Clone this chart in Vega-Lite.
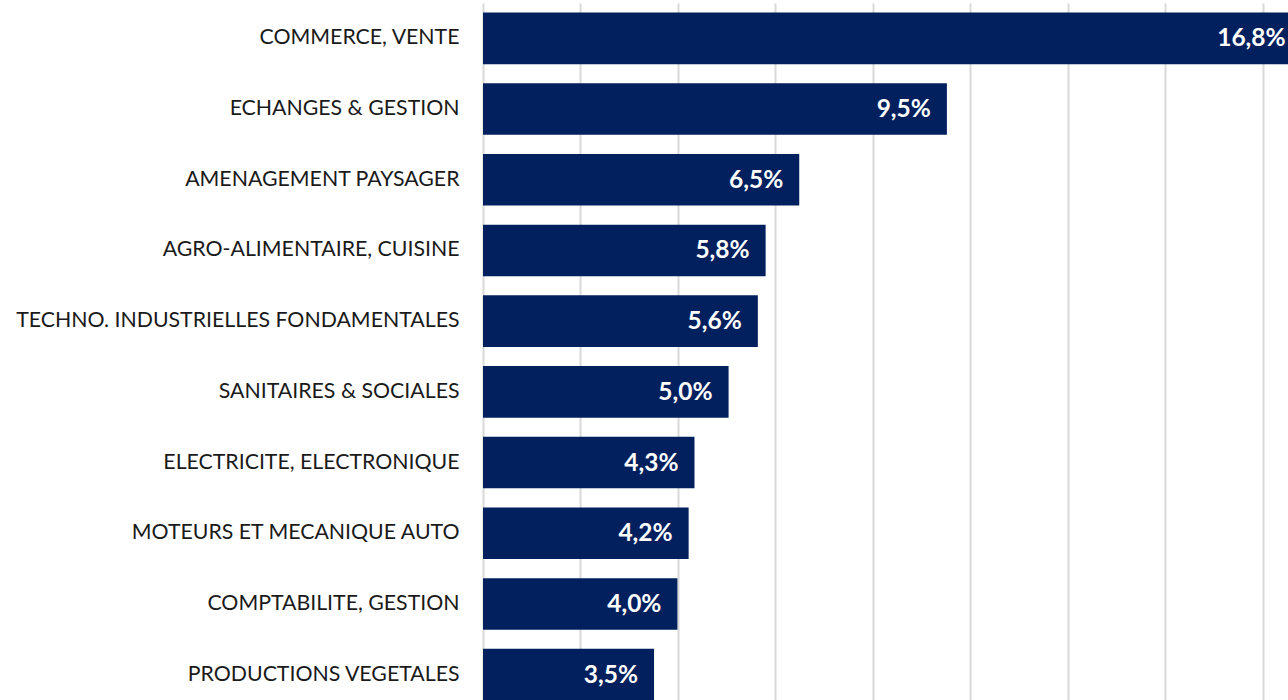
{
  "$schema": "https://vega.github.io/schema/vega-lite/v6.json",
  "autosize": "none",
  "padding": {"left": 483, "top": 3, "right": 0, "bottom": 0},
  "width": 805,
  "height": 707,
  "background": "white",
  "config": {"view": {"stroke": null}},
  "data": {
    "values": [
      {"cat": "COMMERCE, VENTE", "v": 16.8, "lbl": "16,8%"},
      {"cat": "ECHANGES & GESTION", "v": 9.52, "lbl": "9,5%"},
      {"cat": "AMENAGEMENT PAYSAGER", "v": 6.49, "lbl": "6,5%"},
      {"cat": "AGRO-ALIMENTAIRE, CUISINE", "v": 5.8, "lbl": "5,8%"},
      {"cat": "TECHNO. INDUSTRIELLES FONDAMENTALES", "v": 5.64, "lbl": "5,6%"},
      {"cat": "SANITAIRES & SOCIALES", "v": 5.04, "lbl": "5,0%"},
      {"cat": "ELECTRICITE, ELECTRONIQUE", "v": 4.34, "lbl": "4,3%"},
      {"cat": "MOTEURS ET MECANIQUE AUTO", "v": 4.22, "lbl": "4,2%"},
      {"cat": "COMPTABILITE, GESTION", "v": 3.99, "lbl": "4,0%"},
      {"cat": "PRODUCTIONS VEGETALES", "v": 3.51, "lbl": "3,5%"}
    ]
  },
  "encoding": {
    "y": {
      "field": "cat", "type": "nominal", "sort": null,
      "scale": {"paddingInner": 0.27, "paddingOuter": 0.135},
      "axis": {"title": null, "ticks": false, "domain": false, "labelPadding": 24,
               "labelFont": "Lato", "labelFontSize": 21.3, "labelColor": "#1a1a1a", "labelLimit": 480}
    },
    "x": {
      "field": "v", "type": "quantitative",
      "scale": {"domain": [0, 16.52], "nice": false, "zero": true},
      "axis": {"title": null, "labels": false, "ticks": false, "domain": false,
               "values": [0, 2, 4, 6, 8, 10, 12, 14, 16],
               "grid": true, "gridColor": "#d9d9d9", "gridWidth": 2}
    }
  },
  "layer": [
    {"mark": {"type": "bar", "color": "#03205e", "clip": true}},
    {"mark": {"type": "text", "align": "right", "baseline": "middle", "dx": -16, "dy": 1,
              "font": "Lato", "fontWeight": "bold", "fontSize": 24.5, "color": "white", "clip": false},
     "encoding": {"text": {"field": "lbl"}, "x": {"field": "v", "type": "quantitative"}}}
  ]
}
